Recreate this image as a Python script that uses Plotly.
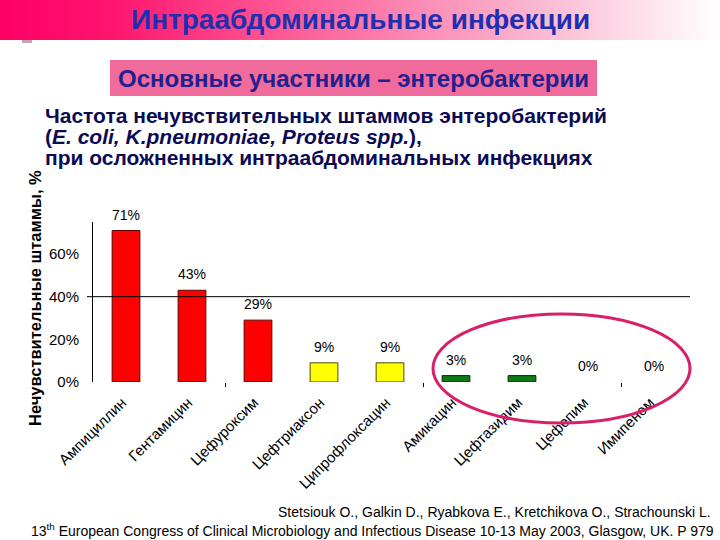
import plotly.graph_objects as go

# ---- data ----
drugs = ["Ампициллин", "Гентамицин", "Цефуроксим", "Цефтриаксон", "Ципрофлоксацин",
         "Амикацин", "Цефтазидим", "Цефепим", "Имипенем"]
nonsusceptible_pct = [71, 43, 29, 9, 9, 3, 3, 0, 0]
bar_colors = ["#ff0000", "#ff0000", "#ff0000", "#ffff00", "#ffff00",
              "#0f7a12", "#0f7a12", "#0f7a12", "#0f7a12"]
bar_edges = ["#5a0000", "#5a0000", "#5a0000", "#4a4a00", "#4a4a00",
             "#0a2a0a", "#0a2a0a", "#0a2a0a", "#0a2a0a"]
y_ticks = [0, 20, 40, 60]
y_tick_labels = ["0%", "20%", "40%", "60%"]

header_title = "Интраабдоминальные инфекции"
subtitle = "Основные участники – энтеробактерии"
desc_lines = ["Частота нечувствительных штаммов энтеробактерий",
              "(<i>E. coli, K.pneumoniae, Proteus spp.</i>),",
              "при осложненных интраабдоминальных инфекциях"]
y_title = "Нечувствительные штаммы, %"
ref_line1 = "Stetsiouk O., Galkin D., Ryabkova E., Kretchikova O., Strachounski L."
ref_line2 = ("13<sup>th</sup> European Congress of Clinical Microbiology and Infectious "
             "Disease 10-13 May 2003, Glasgow, UK. P 979")

W, H = 720, 540
L, R, T, B = 93, 33, 222, 158
PW, PH = W - L - R, H - T - B


def px(x):
    return (x - L) / PW


def py(y):
    return (H - B - y) / PH


FONT = "Liberation Sans, Arial, sans-serif"
xs = list(range(len(drugs)))

fig = go.Figure()
fig.add_trace(go.Bar(
    x=xs, y=nonsusceptible_pct, width=0.42,
    marker=dict(color=bar_colors,
                line=dict(color=bar_edges, width=[1 if v > 0 else 0 for v in nonsusceptible_pct])),
    hoverinfo="skip",
))

shapes = []
# header gradient made of thin strips
stops = [(0.0, (255, 0, 102)), (0.15, (255, 20, 110)), (0.4, (253, 90, 150)),
         (0.7, (250, 170, 200)), (1.0, (255, 255, 255))]


def grad(t):
    for (t0, c0), (t1, c1) in zip(stops[:-1], stops[1:]):
        if t0 <= t <= t1:
            f = (t - t0) / (t1 - t0)
            return "rgb(%d,%d,%d)" % tuple(round(a + (b - a) * f) for a, b in zip(c0, c1))
    return "rgb(255,255,255)"


step = 4
for x0 in range(0, W, step):
    shapes.append(dict(type="rect", xref="paper", yref="paper",
                       x0=px(x0), x1=px(x0 + step + 0.5), y0=py(0), y1=py(40),
                       fillcolor=grad((x0 + step / 2) / W), line=dict(width=0), layer="below"))
# small mark under header
shapes.append(dict(type="rect", xref="paper", yref="paper", x0=px(22), x1=px(32),
                   y0=py(40), y1=py(43), fillcolor="#c9a3b6", line=dict(width=0)))
# subtitle box
shapes.append(dict(type="rect", xref="paper", yref="paper", x0=px(110), x1=px(597),
                   y0=py(60), y1=py(96), fillcolor="#f06a9c", line=dict(width=0), layer="below"))
# 40% reference line
shapes.append(dict(type="line", xref="paper", yref="y", x0=px(87), x1=px(690),
                   y0=40, y1=40, line=dict(color="black", width=1)))
# ellipse
shapes.append(dict(type="circle", xref="paper", yref="paper", x0=px(433), x1=px(690),
                   y0=py(314), y1=py(423), line=dict(color="#d81f6a", width=3)))

annotations = []
for x, v in zip(xs, nonsusceptible_pct):
    annotations.append(dict(x=x, y=v, xref="x", yref="y", text=f"{v}%", showarrow=False,
                            yanchor="bottom", yshift=6,
                            font=dict(family=FONT, size=14, color="black")))
annotations.append(dict(x=px(360), y=py(20), xref="paper", yref="paper", text=f"<b>{header_title}</b>",
                        showarrow=False, xanchor="center", yanchor="middle",
                        font=dict(family=FONT, size=28, color="#1f2fb0")))
annotations.append(dict(x=px(353), y=py(78), xref="paper", yref="paper", text=f"<b>{subtitle}</b>",
                        showarrow=False, xanchor="center", yanchor="middle",
                        font=dict(family=FONT, size=24, color="#22208e")))
for i, line in enumerate(desc_lines):
    annotations.append(dict(x=px(43), y=py(115 + 21 * i), xref="paper", yref="paper",
                            text=f"<b>{line}</b>", showarrow=False, xanchor="left", yanchor="middle",
                            font=dict(family=FONT, size=21, color="#0b0b55")))
annotations.append(dict(x=px(35), y=py(298), xref="paper", yref="paper", text=f"<b>{y_title}</b>",
                        showarrow=False, textangle=-90, xanchor="center", yanchor="middle",
                        font=dict(family=FONT, size=16.5, color="black")))
annotations.append(dict(x=px(713), y=py(512), xref="paper", yref="paper", text=ref_line1,
                        showarrow=False, xanchor="right", yanchor="middle",
                        font=dict(family=FONT, size=14, color="black")))
annotations.append(dict(x=px(716), y=py(530), xref="paper", yref="paper", text=ref_line2,
                        showarrow=False, xanchor="right", yanchor="middle",
                        font=dict(family=FONT, size=14, color="black")))

fig.update_layout(
    width=W, height=H,
    margin=dict(l=L, r=R, t=T, b=B, pad=0),
    paper_bgcolor="white", plot_bgcolor="white",
    showlegend=False,
    shapes=shapes, annotations=annotations,
    xaxis=dict(range=[-0.5, len(drugs) - 0.5], tickvals=xs, ticktext=drugs, tickangle=-45,
               ticks="", showline=False, showgrid=False, zeroline=False,
               ticklabelstandoff=8, ticklabelshift=-4,
               tickfont=dict(family=FONT, size=15, color="black"),
               minor=dict(tickvals=[1.5, 4.5, 7.5], ticks="outside", ticklen=4,
                          tickcolor="black", showgrid=False)),
    yaxis=dict(range=[0, 75], tickvals=y_ticks, ticktext=y_tick_labels, ticks="",
               showline=True, linecolor="black", linewidth=1, showgrid=False, zeroline=False,
               ticklabelstandoff=10,
               tickfont=dict(family=FONT, size=15, color="black")),
)

fig.write_html("out.html")
